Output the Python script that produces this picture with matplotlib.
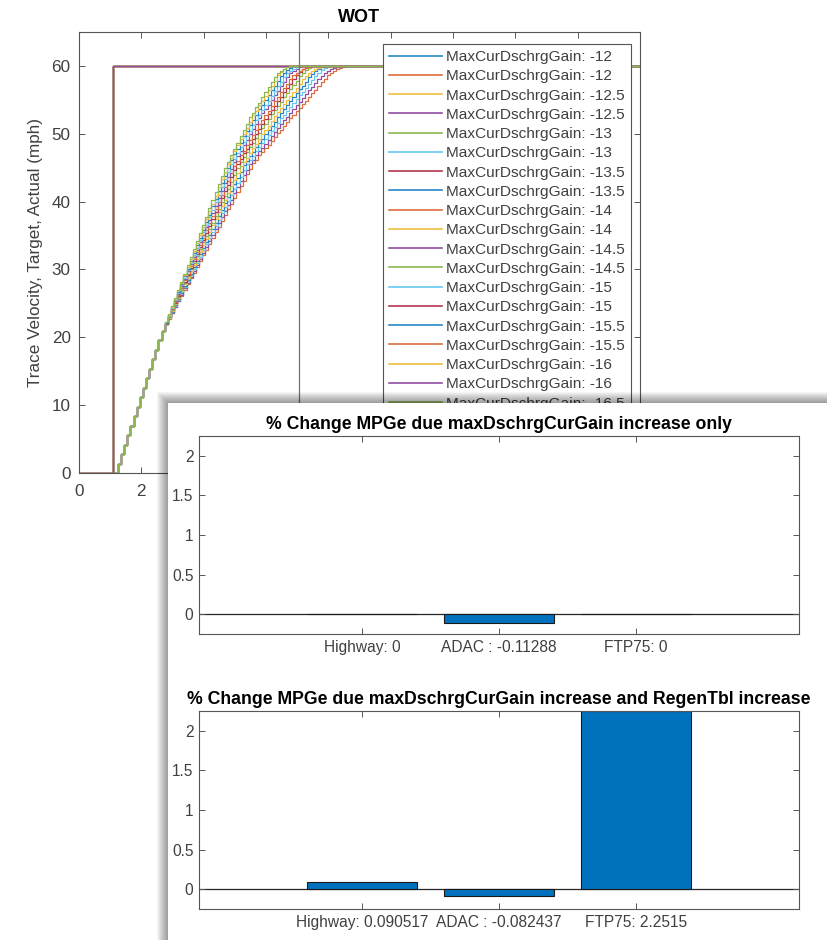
import numpy as np
import matplotlib.pyplot as plt
from matplotlib.patches import Rectangle

plt.rcParams['font.family'] = ['Liberation Sans', 'DejaVu Sans']

# ---- data: WOT launch, trace vs actual speed (mph) ----
gains = [-12, -12.5, -13, -13.5, -14, -14.5, -15, -15.5, -16, -16.5, -17, -17.5, -18]
target_time = [0, 1.1, 18]
target_speed = [0, 60, 60]
launch_time = 1.15   # first sample of the actual speed traces (s)
sample_dt = 0.1      # logging step (s)
end_time = 18

# common part of all actual traces
ramp_speed = [1.4, 2.8, 4.2, 5.6, 7.0, 8.4, 9.8, 11.2, 12.6, 14.0, 15.4, 16.8, 18.2, 19.6, 21.0]

# rest of each trace, one per gain
tail_12 = [21.9, 22.7, 23.6, 24.4, 25.3, 26.1, 27.0, 27.8, 28.7, 29.5, 30.4, 31.2, 32.1, 32.9, 33.8,
           34.6, 35.5, 36.3, 37.2, 38.0, 38.9, 39.7, 40.6, 41.4, 42.3, 43.1, 44.0, 44.8, 45.7,
           46.2, 46.8, 47.3, 47.9, 48.4, 49.0, 49.5, 50.1, 50.6, 51.2, 51.7, 52.3,
           52.8, 53.3, 53.8, 54.4, 54.9, 55.4, 56.0, 56.5, 57.0, 57.6, 58.1,
           58.6, 59.0, 59.3, 59.5, 59.7, 59.9, 60.0]
tail_12_5 = [21.9, 22.8, 23.6, 24.5, 25.4, 26.3, 27.2, 28.0, 28.9, 29.8, 30.7, 31.6, 32.4, 33.3, 34.2,
             35.1, 35.9, 36.8, 37.7, 38.6, 39.5, 40.3, 41.2, 42.1, 43.0, 43.9, 44.7, 45.6,
             46.2, 46.8, 47.4, 47.9, 48.5, 49.1, 49.7, 50.3, 50.8, 51.4, 52.0,
             52.5, 53.1, 53.6, 54.2, 54.7, 55.3, 55.8, 56.4, 56.9, 57.5, 58.0,
             58.5, 58.9, 59.2, 59.5, 59.7, 59.8, 59.9, 60.0]
tail_13 = [21.9, 22.8, 23.7, 24.6, 25.5, 26.5, 27.4, 28.3, 29.2, 30.1, 31.0, 31.9, 32.8, 33.7, 34.6,
           35.5, 36.4, 37.3, 38.3, 39.2, 40.1, 41.0, 41.9, 42.8, 43.7, 44.6, 45.5,
           46.1, 46.7, 47.4, 48.0, 48.6, 49.2, 49.8, 50.4, 51.0, 51.6, 52.3,
           52.8, 53.4, 54.0, 54.5, 55.1, 55.7, 56.2, 56.8, 57.4, 57.9, 58.5,
           59.0, 59.4, 59.7, 59.9, 60.0]
tail_13_5 = [21.9, 22.9, 23.8, 24.8, 25.7, 26.6, 27.6, 28.5, 29.4, 30.4, 31.3, 32.3, 33.2, 34.1, 35.1,
             36.0, 36.9, 37.9, 38.8, 39.8, 40.7, 41.6, 42.6, 43.5, 44.4, 45.4,
             46.0, 46.7, 47.3, 48.0, 48.6, 49.2, 49.9, 50.5, 51.2, 51.8, 52.5,
             53.0, 53.6, 54.2, 54.8, 55.4, 56.0, 56.6, 57.1, 57.7, 58.3,
             58.8, 59.2, 59.5, 59.8, 59.9, 60.0]
tail_14 = [22.0, 22.9, 23.9, 24.9, 25.8, 26.8, 27.8, 28.7, 29.7, 30.7, 31.6, 32.6, 33.6, 34.5, 35.5,
           36.5, 37.4, 38.4, 39.4, 40.3, 41.3, 42.3, 43.2, 44.2, 45.2,
           45.9, 46.5, 47.2, 47.9, 48.5, 49.2, 49.9, 50.6, 51.2, 51.9, 52.6,
           53.2, 53.8, 54.4, 55.0, 55.6, 56.2, 56.8, 57.4, 58.0,
           58.5, 58.9, 59.2, 59.5, 59.7, 59.8, 59.9, 60.0]
tail_14_5 = [22.0, 23.0, 24.0, 25.0, 26.0, 27.0, 28.0, 29.0, 30.0, 31.0, 32.0, 33.0, 34.0, 34.9, 35.9,
             36.9, 37.9, 38.9, 39.9, 40.9, 41.9, 42.9, 43.9, 44.9, 45.9,
             46.6, 47.3, 48.0, 48.7, 49.4, 50.1, 50.8, 51.5, 52.2,
             52.9, 53.5, 54.1, 54.7, 55.4, 56.0, 56.6, 57.2, 57.8, 58.5,
             59.0, 59.4, 59.7, 59.9, 60.0]
tail_15 = [22.0, 23.1, 24.1, 25.1, 26.1, 27.2, 28.2, 29.2, 30.2, 31.3, 32.3, 33.3, 34.3, 35.4, 36.4,
           37.4, 38.4, 39.5, 40.5, 41.5, 42.5, 43.6, 44.6, 45.6,
           46.3, 47.1, 47.8, 48.5, 49.3, 50.0, 50.7, 51.5, 52.2,
           52.9, 53.5, 54.1, 54.8, 55.4, 56.1, 56.7, 57.3, 58.0, 58.6,
           59.1, 59.5, 59.8, 60.0]
tail_15_5 = [22.1, 23.1, 24.2, 25.2, 26.3, 27.3, 28.4, 29.4, 30.5, 31.5, 32.6, 33.6, 34.7, 35.8, 36.8,
             37.9, 38.9, 40.0, 41.0, 42.1, 43.1, 44.2, 45.2,
             46.0, 46.8, 47.5, 48.3, 49.1, 49.8, 50.6, 51.4, 52.1,
             52.8, 53.4, 54.1, 54.8, 55.4, 56.1, 56.7, 57.4, 58.1,
             58.6, 59.0, 59.3, 59.5, 59.7, 59.8, 59.9, 60.0]
tail_16 = [22.1, 23.2, 24.3, 25.3, 26.4, 27.5, 28.6, 29.7, 30.8, 31.8, 32.9, 34.0, 35.1, 36.2, 37.3,
           38.3, 39.4, 40.5, 41.6, 42.7, 43.7, 44.8, 45.9,
           46.7, 47.5, 48.3, 49.1, 49.9, 50.7, 51.5, 52.3,
           53.0, 53.6, 54.3, 55.0, 55.7, 56.3, 57.0, 57.7, 58.4,
           58.9, 59.3, 59.6, 59.8, 60.0]
tail_16_5 = [22.1, 23.2, 24.3, 25.5, 26.6, 27.7, 28.8, 29.9, 31.0, 32.1, 33.2, 34.4, 35.5, 36.6, 37.7,
             38.8, 39.9, 41.0, 42.1, 43.3, 44.4, 45.5,
             46.3, 47.1, 48.0, 48.8, 49.6, 50.4, 51.3, 52.1,
             52.8, 53.5, 54.2, 54.9, 55.6, 56.3, 57.0, 57.7, 58.4,
             58.9, 59.3, 59.6, 59.8, 60.0]
tail_17 = [22.1, 23.3, 24.4, 25.6, 26.7, 27.9, 29.0, 30.1, 31.3, 32.4, 33.6, 34.7, 35.8, 37.0, 38.1,
           39.3, 40.4, 41.6, 42.7, 43.8, 45.0, 46.1,
           47.0, 47.8, 48.7, 49.6, 50.4, 51.3, 52.1,
           52.8, 53.6, 54.3, 55.0, 55.7, 56.4, 57.1, 57.8, 58.5,
           59.0, 59.4, 59.7, 60.0]
tail_17_5 = [22.2, 23.3, 24.5, 25.7, 26.9, 28.0, 29.2, 30.4, 31.5, 32.7, 33.9, 35.1, 36.2, 37.4, 38.6,
             39.7, 40.9, 42.1, 43.3, 44.4, 45.6,
             46.5, 47.4, 48.3, 49.2, 50.0, 50.9, 51.8, 52.7,
             53.4, 54.2, 54.9, 55.6, 56.4, 57.1, 57.8, 58.6,
             59.1, 59.5, 59.8, 60.0]
tail_18 = [22.2, 23.4, 24.6, 25.8, 27.0, 28.2, 29.4, 30.6, 31.8, 33.0, 34.2, 35.4, 36.6, 37.8, 39.0,
           40.2, 41.4, 42.6, 43.8, 45.0,
           45.9, 46.8, 47.8, 48.7, 49.6, 50.5, 51.4, 52.4,
           53.1, 53.9, 54.6, 55.4, 56.1, 56.9, 57.6, 58.4,
           58.9, 59.3, 59.6, 59.8, 60.0]
tails = [tail_12, tail_12_5, tail_13, tail_13_5, tail_14, tail_14_5, tail_15,
         tail_15_5, tail_16, tail_16_5, tail_17, tail_17_5, tail_18]
cursor_time = 7.06
legend_rows_shown = 19   # the rest of the legend sits under the second window

# ---- data: % change in MPGe per drive cycle ----
cycles = ['Highway', 'ADAC ', 'FTP75']
mpge_gain_only = [0, -0.11288, 0]
mpge_gain_regen = [0.090517, -0.082437, 2.2515]

# MATLAB default line order, a touch lighter as in the screenshot
line_colors = ['#2687C7', '#DE6D3B', '#EFBD41', '#914E9F', '#8BB84F', '#68C8F0', '#B0374E']
axis_gray = '#404040'

W, H = 828, 940
fig = plt.figure(figsize=(W / 100, H / 100), dpi=100)


def box(left, top, right, bottom):
    return [left / W, 1 - bottom / H, (right - left) / W, (bottom - top) / H]


def matlab_style(ax, size):
    for s in ax.spines.values():
        s.set_color('#555555')
        s.set_linewidth(0.8)
    ax.tick_params(direction='in', top=True, right=True, length=4, width=0.7,
                   color='#555555', labelcolor=axis_gray, labelsize=size)


# ---- main window: WOT ----
ax = fig.add_axes(box(79, 32, 640, 473))
ax.set_prop_cycle(color=line_colors)
n = 0
for g, tail in zip(gains, tails):
    lab = f'MaxCurDschrgGain: {g:g}'
    ax.plot(target_time, target_speed, drawstyle='steps-post', lw=0.9,
            label=lab if n < legend_rows_shown else '_nolegend_')
    n += 1
    v = [0] + ramp_speed + tail
    t = launch_time + sample_dt * np.arange(len(v))
    ax.plot(np.append(t, end_time), v + [v[-1]], drawstyle='steps-post', lw=0.9,
            label=lab if n < legend_rows_shown else '_nolegend_')
    n += 1
ax.axvline(cursor_time, color='0.45', lw=0.9)
ax.set_xlim(0, 18)
ax.set_ylim(0, 65)
ax.set_xticks(range(0, 19, 2))
ax.set_yticks(range(0, 61, 10))
matlab_style(ax, 12.3)
ax.tick_params(axis='x', pad=8)
ax.tick_params(axis='y', pad=6)
ax.set_title('WOT', fontsize=13, fontweight='bold', pad=7)
ax.set_ylabel('Trace Velocity, Target, Actual (mph)', fontsize=12.3, color=axis_gray, labelpad=6)
leg = ax.legend(loc='upper left', bbox_to_anchor=(383 / W, 1 - 44 / H), bbox_transform=fig.transFigure,
                borderaxespad=0, fontsize=11.1, handlelength=3.4, handletextpad=0.3,
                labelspacing=0.34, borderpad=0.4, fancybox=False, framealpha=1)
leg.get_frame().set_edgecolor('#555555')
leg.get_frame().set_linewidth(0.8)
for txt in leg.get_texts():
    txt.set_color(axis_gray)
for ln in leg.get_lines():
    ln.set_linewidth(1.2)

# ---- second window on top, with a soft shadow ----
win_left, win_top = 168, 403
for k in range(1, 12):
    fig.add_artist(Rectangle(((win_left - k) / W, 0), 1, (H - win_top + k) / H,
                             transform=fig.transFigure, facecolor='k', alpha=0.04,
                             edgecolor='none', zorder=1))
fig.add_artist(Rectangle((win_left / W, 0), 1, (H - win_top) / H, transform=fig.transFigure,
                         facecolor='white', edgecolor='none', zorder=1.5))

bar_axes = [fig.add_axes(box(199, 436, 799, 634)), fig.add_axes(box(199, 711, 799, 909))]
bar_titles = ['% Change MPGe due maxDschrgCurGain increase only',
              '% Change MPGe due maxDschrgCurGain increase and RegenTbl increase']
for bax, vals, title in zip(bar_axes, [mpge_gain_only, mpge_gain_regen], bar_titles):
    bax.set_zorder(2)
    pos = np.arange(1, len(vals) + 1)
    bax.axhline(0, color='#262626', lw=0.9, zorder=1)
    bax.bar(pos, vals, width=0.8, color='#0072BD', edgecolor='#1a1a1a', lw=0.8, zorder=2)
    bax.set_xlim(-0.19, 4.19)
    bax.set_ylim(-0.25, 2.2515)
    bax.set_yticks([0, 0.5, 1, 1.5, 2])
    bax.set_yticklabels(['0', '0.5', '1', '1.5', '2'])
    bax.set_xticks(pos)
    bax.set_xticklabels([f'{c}: {v:.5g}' for c, v in zip(cycles, vals)])
    matlab_style(bax, 11.2)
    bax.tick_params(pad=4)
    bax.set_title(title, fontsize=12.7, fontweight='bold', pad=5)

fig.savefig('out.png', dpi=100)
